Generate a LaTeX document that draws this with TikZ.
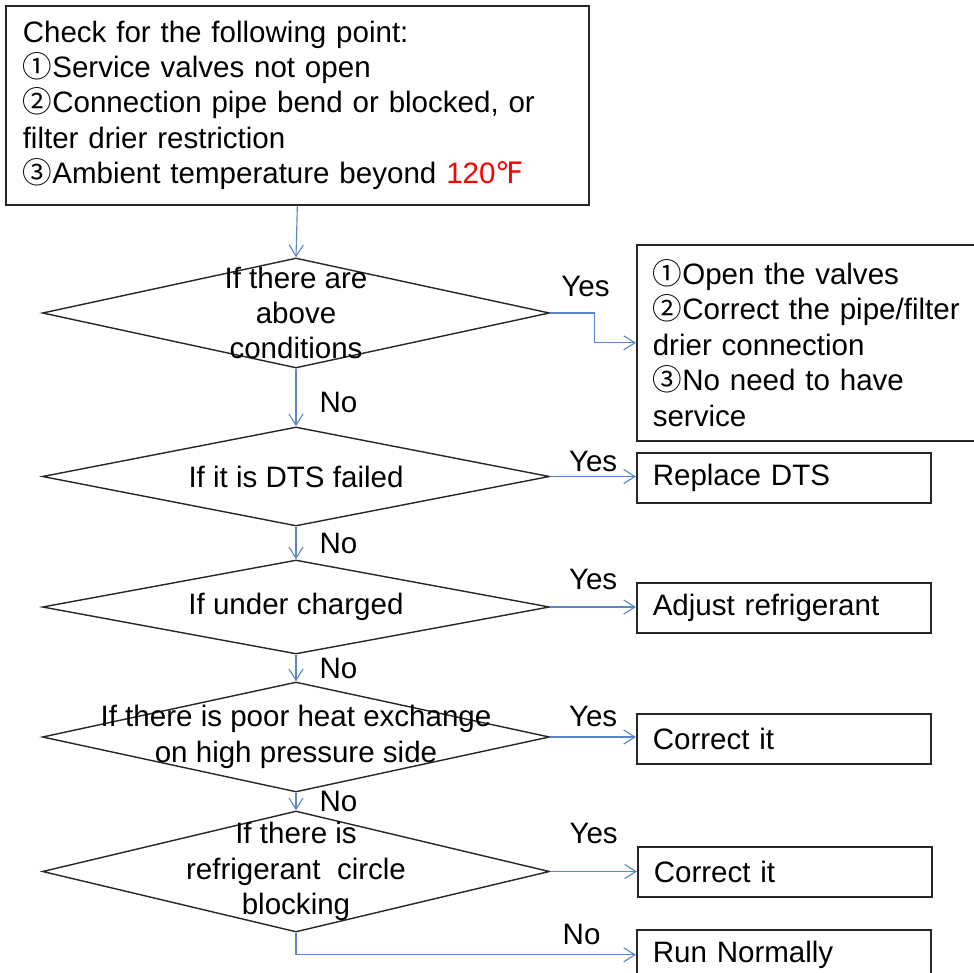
\documentclass[tikz,border=0pt]{standalone}
\usepackage{fontspec}
\setmainfont{Liberation Sans}
\newfontfamily\circfont{Noto Sans CJK SC}
\newfontfamily\symfont{DejaVu Sans}
\usetikzlibrary{shapes.geometric,arrows.meta}

\definecolor{flowblue}{RGB}{91,134,204}
% circled numbers come from the CJK font, the degree sign from DejaVu
\newcommand{\cnum}[1]{{\circfont #1}}
\newcommand{\fahr}{{\symfont ℉}}

\begin{document}
\begin{tikzpicture}[x=0.025cm,y=-0.025cm,font=\fontsize{21}{25.2}\selectfont]
    \tikzstyle{box}=[draw=black!85,line width=1.1pt,rectangle,anchor=north west,align=left,inner xsep=0.4cm,inner ysep=0pt]
    \tikzstyle{outcome}=[box,text width=6.55cm,minimum height=1.25cm]
    \tikzstyle{decision}=[draw=black!85,line width=1pt,diamond,inner sep=0pt,minimum width=12.675cm]
    \tikzstyle{flow}=[draw=flowblue,line width=0.8pt,-{Straight Barb[length=8pt,width=10pt]}]
    \tikzstyle{tag}=[inner sep=1pt]

    \useasboundingbox (0,0) rectangle (974,973);

    % checks to run first
    \node[box,text width=13.725cm,minimum height=4.975cm,inner xsep=0.425cm] at (5,5) (check) {Check for the following point:\\
        \cnum{①}Service valves not open\\
        \cnum{②}Connection pipe bend or blocked, or\\
        filter drier restriction\\
        \cnum{③}Ambient temperature beyond \textcolor{red}{120\fahr}};

    % questions
    \node[decision,minimum height=2.75cm] at (296,313) (cond) {};
    \node[align=center] at (cond) (condtext) {If there are\\above\\conditions};
    \node[decision,minimum height=2.475cm] at (296,476.5) (dts) {};
    \node at (dts) (dtstext) {If it is DTS failed};
    \node[decision,minimum height=2.35cm] at (296,607) (charge) {};
    \node at (charge) (chargetext) {If under charged};
    \node[decision,minimum height=2.75cm] at (296,737) (heat) {};
    \node[align=center] at (heat) (heattext) {If there is poor heat exchange\\on high pressure side};
    \node[decision,minimum height=3.025cm] at (296,871.5) (block) {};
    \node[align=center] at (block) (blocktext) {If there is\\refrigerant\ \ circle\\blocking};

    % what to do
    \node[box,text width=8.05cm,minimum height=4.9cm] at (636,244) (valvefix) {\cnum{①}Open the valves\\
        \cnum{②}Correct the pipe/filter\\
        drier connection\\
        \cnum{③}No need to have\\
        service};
    \node[outcome] at (636,452) (replacedts) {Replace DTS};
    \node[outcome] at (636,582) (adjust) {Adjust refrigerant};
    \node[outcome] at (636,713) (correctheat) {Correct it};
    \node[outcome] at (637,846) (correctblock) {Correct it};
    \node[outcome] at (636,929) (runok) {Run Normally};

    \draw[flow] (check.south) -- (cond.north);
    \draw[flow] (cond.east) -- ++(44,0) node[tag,pos=0.8,above=0.35cm] {Yes} |- (valvefix.west);
    \draw[flow] (cond.south) -- (dts.north) node[tag,pos=0.58,right=0.54cm] {No};

    \draw[flow] (dts.east) -- (replacedts.west |- dts.east) node[tag,midway,above=0.075cm] {Yes};
    \draw[flow] (dts.south) -- (charge.north) node[tag,midway,right=0.54cm] {No};

    \draw[flow] (charge.east) -- (adjust.west |- charge.east) node[tag,midway,above=0.375cm] {Yes};
    \draw[flow] (charge.south) -- (heat.north) node[tag,midway,right=0.54cm] {No};

    \draw[flow] (heat.east) -- (correctheat.west |- heat.east) node[tag,midway,above=0.2cm] {Yes};
    \draw[flow] (heat.south) -- (block.north) node[tag,midway,right=0.54cm] {No};

    \draw[flow] (block.east) -- (correctblock.west |- block.east) node[tag,midway,above=0.65cm] {Yes};
    \draw[flow] (block.south) |- (runok.west) node[tag,pos=0.92,above=0.2cm] {No};
\end{tikzpicture}
\end{document}
